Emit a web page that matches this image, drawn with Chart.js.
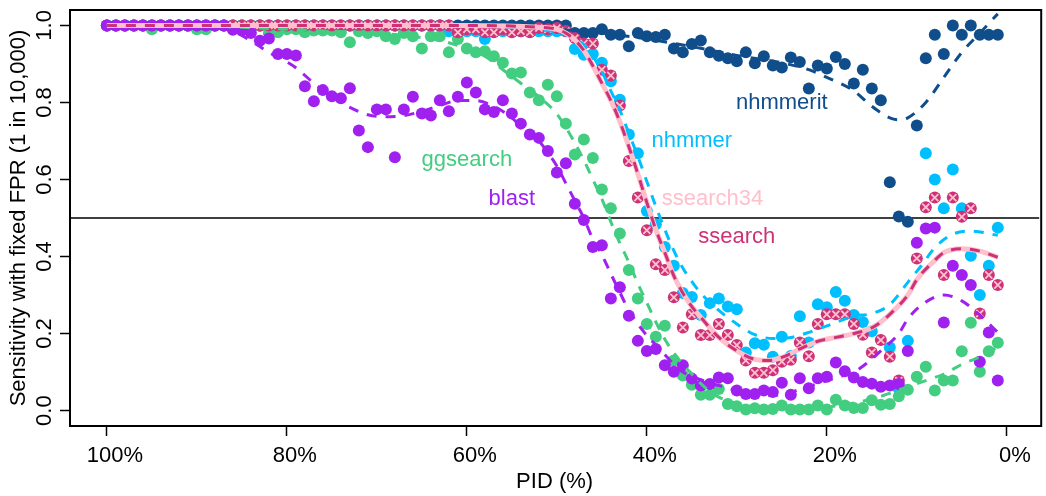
<!DOCTYPE html>
<html>
<head>
<meta charset="utf-8">
<script src="https://cdn.jsdelivr.net/npm/chart.js@4"></script>
<style>
  html, body { margin: 0; padding: 0; background: #fff; }
  #wrap { width: 1046px; height: 496px; }
</style>
</head>
<body>
<div id="wrap"><canvas id="pid-chart" width="1046" height="496"></canvas></div>
<script>
// PID bins (percent identity), 100% down to 1%
const pid = [100, 99, 98, 97, 96, 95, 94, 93, 92, 91, 90, 89, 88, 87, 86, 85, 84, 83, 82, 81,
  80, 79, 78, 77, 76, 75, 74, 73, 72, 71, 70, 69, 68, 67, 66, 65, 64, 63, 62, 61,
  60, 59, 58, 57, 56, 55, 54, 53, 52, 51, 50, 49, 48, 47, 46, 45, 44, 43, 42, 41,
  40, 39, 38, 37, 36, 35, 34, 33, 32, 31, 30, 29, 28, 27, 26, 25, 24, 23, 22, 21,
  20, 19, 18, 17, 16, 15, 14, 13, 12, 11, 10, 9, 8, 7, 6, 5, 4, 3, 2, 1];

// sensitivity per PID bin, same order as pid
const nhmmerit = [1, 1, 1, 1, 1, 1, 1, 1, 1, 1, 1, 1, 1, 1, 1, 1, 1, 1, 1, 1,
  1, 1, 1, 1, 1, 1, 1, 1, 1, 1, 1, 1, 1, 1, 1, 1, 1, 1, 1, 1,
  1, 1, 1, 1, 1, 1, 1, 1, 1, 1, 1, 1, 0.98, 0.98, 0.98, 0.99, 0.976, 0.976, 0.946, 0.98,
  0.972, 0.97, 0.976, 0.94, 0.93, 0.952, 0.961, 0.93, 0.921, 0.915, 0.907, 0.93, 0.902, 0.92, 0.896, 0.891, 0.917, 0.905, 0.836, 0.896,
  0.888, 0.918, 0.9, 0.849, 0.885, 0.836, 0.806, 0.593, 0.504, 0.49, 0.74, 0.915, 0.976, 0.926, 1, 0.976, 1, 0.976, 0.976, 0.976];

const nhmmer = [1, 1, 1, 1, 1, 1, 1, 1, 1, 1, 1, 1, 1, 1, 1, 1, 1, 1, 1, 1,
  1, 1, 1, 1, 1, 1, 1, 1, 1, 1, 1, 1, 1, 1, 1, 1, 1, 1, 0.985, 0.985,
  0.985, 0.985, 0.965, 0.985, 0.985, 0.985, 0.985, 0.985, 0.985, 0.985, 0.985, 0.985, 0.939, 0.924, 0.926, 0.903, 0.855, 0.807, 0.717, 0.668,
  0.518, 0.484, 0.425, 0.376, 0.305, 0.295, 0.248, 0.279, 0.291, 0.27, 0.263, 0.151, 0.175, 0.171, 0.14, 0.192, 0.142, 0.245, 0.177, 0.276,
  0.268, 0.308, 0.285, 0.248, 0.23, 0.206, null, 0.164, 0.056, 0.181, null, 0.668, 0.6, 0.525, 0.626, 0.525, 0.402, 0.3, 0.376, 0.475];

const ggsearch = [1, 1, 1, 1, 1, 0.99, 1, 1, 1, 1, 0.99, 0.99, 1, 1, 1, 1, 1, 1, 0.98, 0.982,
  0.99, 0.99, 0.982, 0.987, 0.987, 0.987, 0.982, 0.956, 0.985, 0.98, 0.985, 0.972, 0.965, 0.98, 0.972, 0.94, 0.972, 0.972, 0.93, 0.965,
  0.94, 0.93, 0.933, 0.92, 0.903, 0.875, 0.878, 0.826, 0.806, 0.846, 0.816, 0.745, 0.665, 0.704, 0.656, 0.574, 0.525, 0.46, 0.365, 0.291,
  0.225, 0.192, 0.22, 0.13, 0.091, 0.067, 0.041, 0.041, 0.056, 0.017, 0.011, 0.003, 0.006, 0.003, 0.004, 0.013, 0.003, 0.003, 0.003, 0.013,
  0.003, 0.028, 0.013, 0.007, 0.007, 0.027, 0.015, 0.017, 0.037, 0.054, 0.088, 0.114, 0.052, 0.078, 0.078, 0.154, 0.228, 0.101, 0.154, 0.176];

const blast = [1, 1, 1, 1, 1, 1, 1, 1, 1, 1, 1, 1, 1, 1, 0.989, 0.987, 0.98, 0.96, 0.966, 0.926,
  0.926, 0.922, 0.842, 0.803, 0.832, 0.816, 0.811, 0.837, 0.727, 0.684, 0.782, 0.782, 0.658, 0.782, 0.815, 0.771, 0.766, 0.806, 0.777, 0.815,
  0.852, 0.826, 0.782, 0.775, 0.806, 0.771, 0.745, 0.717, 0.708, 0.674, 0.618, 0.642, 0.537, 0.495, 0.425, 0.429, 0.291, 0.32, 0.246, 0.181,
  0.155, 0.16, 0.118, 0.101, 0.118, 0.083, 0.065, 0.069, 0.086, 0.084, 0.052, 0.043, 0.043, 0.052, 0.048, 0.072, 0.041, 0.084, 0.058, 0.084,
  0.088, 0.125, 0.102, 0.086, 0.074, 0.07, 0.062, 0.065, 0.069, 0.155, 0.436, 0.473, 0.475, 0.229, 0.376, 0.352, 0.326, 0.127, 0.203, 0.078];

const ssearch = [1, 1, 1, 1, 1, 1, 1, 1, 1, 1, 1, 1, 1, 1, 1, 1, 1, 1, 1, 1,
  1, 1, 1, 1, 1, 1, 1, 1, 1, 1, 1, 1, 1, 1, 1, 1, 1, 1, 1, 0.982,
  0.99, 0.99, 0.982, 0.982, 0.99, 0.982, 0.985, 0.982, 0.993, 0.99, 0.993, 0.985, 0.967, 0.953, 0.953, 0.885, 0.87, 0.792, 0.648, 0.553,
  0.468, 0.38, 0.365, 0.294, 0.216, 0.25, 0.196, 0.196, 0.225, 0.196, 0.17, 0.13, 0.098, 0.098, 0.105, 0.127, 0.132, 0.177, 0.141, 0.225,
  0.25, 0.25, 0.25, 0.225, 0.197, 0.151, 0.183, 0.14, 0.078, null, 0.395, 0.528, 0.553, 0.352, 0.553, 0.503, 0.525, 0.252, 0.352, 0.326];

// ssearch34 gave the same sensitivities as ssearch
const ssearch34 = [1, 1, 1, 1, 1, 1, 1, 1, 1, 1, 1, 1, 1, 1, 1, 1, 1, 1, 1, 1,
  1, 1, 1, 1, 1, 1, 1, 1, 1, 1, 1, 1, 1, 1, 1, 1, 1, 1, 1, 0.982,
  0.99, 0.99, 0.982, 0.982, 0.99, 0.982, 0.985, 0.982, 0.993, 0.99, 0.993, 0.985, 0.967, 0.953, 0.953, 0.885, 0.87, 0.792, 0.648, 0.553,
  0.468, 0.38, 0.365, 0.294, 0.216, 0.25, 0.196, 0.196, 0.225, 0.196, 0.17, 0.13, 0.098, 0.098, 0.105, 0.127, 0.132, 0.177, 0.141, 0.225,
  0.25, 0.25, 0.25, 0.225, 0.197, 0.151, 0.183, 0.14, 0.078, null, 0.395, 0.528, 0.553, 0.352, 0.553, 0.503, 0.525, 0.252, 0.352, 0.326];

// smoothed fits (dashed curves)
const nhmmeritFitPid = [100, 80, 60, 50, 45, 40, 35, 30, 25, 22, 20, 17, 15, 13, 12, 11, 9, 7, 5, 3, 1];
const nhmmeritFit = [1, 1, 0.998, 0.99, 0.98, 0.965, 0.945, 0.922, 0.903, 0.885, 0.865, 0.83, 0.79, 0.76, 0.755, 0.76, 0.8, 0.865, 0.93, 0.98, 1.03];

const nhmmerFitPid = [100, 80, 60, 52, 49, 47, 46, 45, 44, 43, 42, 41, 40, 39, 38, 37, 36, 35, 34, 32, 30, 28, 26, 24, 22, 20, 17, 15, 13, 11, 9.5, 8, 6, 4, 1];
const nhmmerFit = [1, 1, 0.998, 0.99, 0.975, 0.95, 0.92, 0.88, 0.83, 0.78, 0.72, 0.66, 0.595, 0.53, 0.47, 0.415, 0.37, 0.335, 0.305, 0.26, 0.225, 0.197, 0.187, 0.19, 0.203, 0.22, 0.245, 0.252, 0.275, 0.333, 0.376, 0.423, 0.458, 0.466, 0.455];

const ggsearchFitPid = [100, 90, 85, 80, 75, 70, 65, 62, 60, 58, 56, 54, 52, 50, 48, 47, 46, 45, 44, 43, 42, 41, 40, 39, 38, 37, 36, 35, 34, 33, 32, 30, 28, 25, 22, 19, 17, 15, 13, 11, 9, 7, 5, 3, 1];
const ggsearchFit = [1, 0.998, 0.995, 0.99, 0.985, 0.98, 0.968, 0.955, 0.94, 0.92, 0.885, 0.85, 0.815, 0.77, 0.695, 0.65, 0.6, 0.55, 0.49, 0.435, 0.385, 0.33, 0.28, 0.23, 0.185, 0.15, 0.12, 0.095, 0.07, 0.05, 0.035, 0.018, 0.01, 0.006, 0.004, 0.012, 0.02, 0.03, 0.045, 0.062, 0.078, 0.095, 0.12, 0.14, 0.165];

const blastFitPid = [100, 90, 86, 84, 82, 80, 79, 77, 75, 73, 71, 69, 67, 65, 63, 61, 59, 57, 55, 54, 52, 51, 50, 49, 48, 47, 46, 45, 44, 43, 42, 41, 40, 39, 38, 37, 36, 35, 34, 32, 30, 28, 26.5, 25, 23, 21, 19, 17, 16, 14, 12, 11, 9, 7, 5, 3, 1];
const blastFit = [1, 1, 0.985, 0.96, 0.93, 0.905, 0.89, 0.85, 0.815, 0.787, 0.768, 0.763, 0.766, 0.777, 0.792, 0.805, 0.805, 0.79, 0.76, 0.738, 0.7, 0.67, 0.635, 0.59, 0.545, 0.5, 0.445, 0.405, 0.355, 0.307, 0.26, 0.225, 0.195, 0.17, 0.145, 0.12, 0.1, 0.09, 0.08, 0.065, 0.052, 0.044, 0.04, 0.042, 0.055, 0.07, 0.085, 0.1, 0.115, 0.155, 0.2, 0.238, 0.282, 0.3, 0.285, 0.248, 0.203];

const ssearchFitPid = [100, 80, 60, 52, 50, 49, 48, 47, 46, 45, 44, 43, 42, 41, 40, 39, 38, 37, 36, 35, 34, 32, 30, 28, 26.5, 25, 23, 21, 19, 17, 15, 14, 13, 11, 10, 8, 7, 5, 3, 1];
const ssearchFit = [1, 1, 1, 0.995, 0.99, 0.98, 0.962, 0.935, 0.895, 0.85, 0.805, 0.75, 0.685, 0.615, 0.54, 0.47, 0.41, 0.35, 0.305, 0.27, 0.242, 0.19, 0.155, 0.133, 0.13, 0.138, 0.16, 0.18, 0.19, 0.2, 0.215, 0.23, 0.25, 0.3, 0.34, 0.39, 0.41, 0.42, 0.414, 0.398];

const xTicks = [100, 80, 60, 40, 20, 0];
const yTicks = [0, 0.2, 0.4, 0.6, 0.8, 1.0];
const refLine = 0.5;

const colors = {
  nhmmerit: '#104E8B',
  nhmmer: '#00BFFF',
  ggsearch: '#43CD80',
  blast: '#A020F0',
  ssearch34: '#FFC0CB',
  ssearch: '#CD3278'
};

// text labels placed in data coordinates [pid, sensitivity]
const labels = [
  { text: 'nhmmerit', x: 25, y: 0.8, color: colors.nhmmerit },
  { text: 'nhmmer', x: 35, y: 0.7, color: colors.nhmmer },
  { text: 'ggsearch', x: 60, y: 0.65, color: colors.ggsearch },
  { text: 'blast', x: 55, y: 0.55, color: colors.blast },
  { text: 'ssearch34', x: 32.7, y: 0.55, color: colors.ssearch34 },
  { text: 'ssearch', x: 30, y: 0.45, color: colors.ssearch }
];

const toPoints = (xs, ys) => xs.map((x, i) => ({ x: x, y: ys[i] }));

function dots(values, color, order) {
  return {
    data: toPoints(pid, values),
    pointRadius: 6,
    pointBackgroundColor: color,
    pointBorderWidth: 0,
    showLine: false,
    order: order
  };
}

function fit(xs, ys, color, order, dashed, width) {
  return {
    data: toPoints(xs, ys),
    showLine: true,
    pointRadius: 0,
    borderColor: color,
    borderWidth: width,
    borderDash: dashed ? [10, 9] : [],
    cubicInterpolationMode: 'monotone',
    order: order
  };
}

const font = { family: '"Liberation Sans", Arial, Helvetica, sans-serif', size: 22 };

const frame = {
  id: 'frame',
  beforeDatasetsDraw(chart) {
    const { ctx, chartArea: a, scales: { y } } = chart;
    const yh = y.getPixelForValue(refLine);
    ctx.save();
    ctx.strokeStyle = '#000';
    ctx.lineWidth = 1.5;
    ctx.beginPath();
    ctx.moveTo(a.left, yh);
    ctx.lineTo(a.right, yh);
    ctx.stroke();
    ctx.restore();
  },
  afterDraw(chart) {
    const { ctx, chartArea: a, scales: { x, y } } = chart;
    ctx.save();
    ctx.strokeStyle = '#000';
    ctx.lineWidth = 2;
    ctx.strokeRect(a.left, a.top, a.right - a.left + 2, a.bottom - a.top);
    ctx.font = font.size + 'px ' + font.family;
    ctx.textAlign = 'center';
    ctx.textBaseline = 'middle';
    labels.forEach(l => {
      ctx.fillStyle = l.color;
      ctx.fillText(l.text, x.getPixelForValue(l.x), y.getPixelForValue(l.y));
    });
    ctx.restore();
  }
};

const ctx = document.getElementById('pid-chart').getContext('2d');
const pidChart = new Chart(ctx, {
  type: 'scatter',
  data: {
    datasets: [
      fit(ssearchFitPid, ssearchFit, colors.ssearch, 0, true, 3),
      fit(ssearchFitPid, ssearchFit, colors.ssearch34, 1, false, 5),
      fit(blastFitPid, blastFit, colors.blast, 2, true, 3),
      fit(ggsearchFitPid, ggsearchFit, colors.ggsearch, 3, true, 3),
      fit(nhmmerFitPid, nhmmerFit, colors.nhmmer, 4, true, 3),
      fit(nhmmeritFitPid, nhmmeritFit, colors.nhmmerit, 5, true, 3),
      dots(blast, colors.blast, 6),
      {
        data: toPoints(pid, ssearch34),
        pointStyle: 'crossRot',
        pointRadius: 5,
        pointBorderColor: colors.ssearch34,
        pointBorderWidth: 1.8,
        showLine: false,
        order: 7
      },
      dots(ssearch, colors.ssearch, 8),
      dots(ggsearch, colors.ggsearch, 9),
      dots(nhmmer, colors.nhmmer, 10),
      dots(nhmmerit, colors.nhmmerit, 11)
    ]
  },
  options: {
    responsive: false,
    animation: false,
    devicePixelRatio: 1,
    layout: { padding: { top: 10, right: 0, left: 0, bottom: 0 } },
    plugins: { legend: { display: false }, tooltip: { enabled: false } },
    scales: {
      x: {
        type: 'linear',
        reverse: true,
        min: -3.6,
        max: 104.1,
        afterBuildTicks: s => { s.ticks = xTicks.map(v => ({ value: v })); },
        afterFit: s => { s.height = 70; s.paddingLeft = 0; s.paddingRight = 0; },
        grid: { drawOnChartArea: false, tickLength: 10, tickColor: '#000', tickWidth: 1.5 },
        border: { display: false },
        ticks: { color: '#000', font: font, padding: 7, maxRotation: 0, labelOffset: 8, callback: v => v + '%' },
        title: { display: true, text: 'PID (%)', color: '#000', font: font, padding: { top: 0, bottom: 1 } }
      },
      y: {
        type: 'linear',
        min: -0.04,
        max: 1.04,
        afterBuildTicks: s => { s.ticks = yTicks.map(v => ({ value: v })); },
        afterFit: s => { s.width = 70; s.paddingTop = 0; s.paddingBottom = 0; },
        grid: { drawOnChartArea: false, tickLength: 10, tickColor: '#000', tickWidth: 1.5 },
        border: { display: false },
        ticks: { color: '#000', font: font, padding: 0, minRotation: 90, maxRotation: 90, crossAlign: 'center', callback: v => v.toFixed(1) },
        title: { display: true, text: 'Sensitivity with fixed FPR (1 in 10,000)', color: '#000', font: font, padding: { top: 6, bottom: 0 } }
      }
    }
  },
  plugins: [frame]
});
</script>
</body>
</html>
